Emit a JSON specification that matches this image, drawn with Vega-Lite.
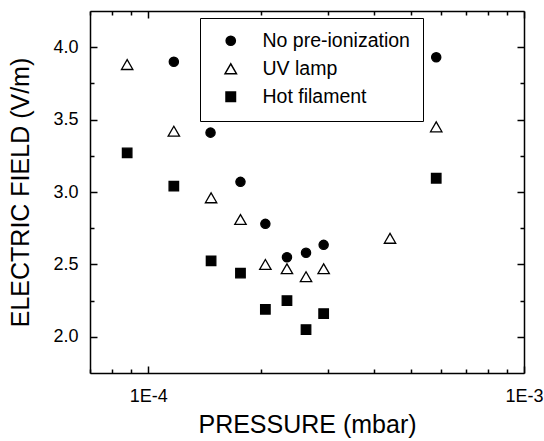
{
  "$schema": "https://vega.github.io/schema/vega-lite/v6.json",
  "width": 434,
  "height": 362,
  "autosize": {"type": "none"},
  "padding": {"left": 90, "top": 11, "right": 20, "bottom": 68},
  "background": "white",
  "config": {
    "view": {"stroke": null},
    "font": "Liberation Sans",
    "axis": {
      "grid": false,
      "domainColor": "black",
      "domainWidth": 1.5,
      "tickColor": "black",
      "tickWidth": 1.5,
      "labelColor": "black",
      "titleColor": "black",
      "labelFont": "Liberation Sans",
      "titleFont": "Liberation Sans",
      "labelFontSize": 18,
      "titleFontSize": 25,
      "titleFontWeight": "normal",
      "labelFlush": false,
      "labelOverlap": false,
      "labelBound": false
    },
    "legend": {
      "orient": "none", "legendX": 110, "legendY": 7,
      "strokeColor": "black", "padding": 13, "symbolOffset": 8,
      "labelFont": "Liberation Sans", "labelFontSize": 19.5, "labelColor": "black",
      "labelOffset": 22, "rowPadding": 7
    }
  },
  "data": {
    "values": [
      {"pressure": 0.000117, "field": 3.90, "series": "No pre-ionization"},
      {"pressure": 0.0001465, "field": 3.41, "series": "No pre-ionization"},
      {"pressure": 0.000176, "field": 3.07, "series": "No pre-ionization"},
      {"pressure": 0.000205, "field": 2.78, "series": "No pre-ionization"},
      {"pressure": 0.000234, "field": 2.55, "series": "No pre-ionization"},
      {"pressure": 0.000263, "field": 2.58, "series": "No pre-ionization"},
      {"pressure": 0.000293, "field": 2.635, "series": "No pre-ionization"},
      {"pressure": 0.000584, "field": 3.93, "series": "No pre-ionization"},
      {"pressure": 0.0000879, "field": 3.88, "series": "UV lamp"},
      {"pressure": 0.000117, "field": 3.42, "series": "UV lamp"},
      {"pressure": 0.000147, "field": 2.96, "series": "UV lamp"},
      {"pressure": 0.000176, "field": 2.81, "series": "UV lamp"},
      {"pressure": 0.000205, "field": 2.50, "series": "UV lamp"},
      {"pressure": 0.000234, "field": 2.47, "series": "UV lamp"},
      {"pressure": 0.000263, "field": 2.415, "series": "UV lamp"},
      {"pressure": 0.000293, "field": 2.47, "series": "UV lamp"},
      {"pressure": 0.00044, "field": 2.68, "series": "UV lamp"},
      {"pressure": 0.000584, "field": 3.45, "series": "UV lamp"},
      {"pressure": 0.0000879, "field": 3.27, "series": "Hot filament"},
      {"pressure": 0.000117, "field": 3.04, "series": "Hot filament"},
      {"pressure": 0.000147, "field": 2.525, "series": "Hot filament"},
      {"pressure": 0.000176, "field": 2.44, "series": "Hot filament"},
      {"pressure": 0.000205, "field": 2.19, "series": "Hot filament"},
      {"pressure": 0.000234, "field": 2.25, "series": "Hot filament"},
      {"pressure": 0.000263, "field": 2.05, "series": "Hot filament"},
      {"pressure": 0.000293, "field": 2.16, "series": "Hot filament"},
      {"pressure": 0.000584, "field": 3.095, "series": "Hot filament"}
    ]
  },
  "resolve": {"axis": {"x": "independent", "y": "independent"}},
  "layer": [
    {
      "mark": {"type": "point", "opacity": 1, "strokeWidth": 1.3, "stroke": "black"},
      "encoding": {
        "x": {
          "field": "pressure", "type": "quantitative",
          "scale": {"type": "log", "domain": [0.00007, 0.001], "nice": false},
          "axis": {
            "orient": "bottom", "values": [0.0001, 0.001],
            "labelExpr": "datum.value < 0.0005 ? '1E-4' : '1E-3'",
            "tickSize": -7, "labelPadding": 21, "titlePadding": 7,
            "title": "PRESSURE (mbar)"
          }
        },
        "y": {
          "field": "field", "type": "quantitative",
          "scale": {"domain": [1.75, 4.25], "nice": false, "zero": false},
          "axis": {
            "orient": "left", "values": [2.0, 2.5, 3.0, 3.5, 4.0], "format": ".1f",
            "tickSize": -7, "labelPadding": 19, "titlePadding": 19,
            "title": "ELECTRIC FIELD (V/m)"
          }
        },
        "shape": {
          "field": "series", "type": "nominal",
          "scale": {"domain": ["No pre-ionization", "UV lamp", "Hot filament"], "range": ["circle", "triangle-up", "square"]},
          "legend": {"title": " ", "titleOrient": "bottom", "titleFontSize": 2, "titleLineHeight": 2, "titlePadding": 0, "encode": {"symbols": {"update": {"stroke": {"value": "black"}, "strokeWidth": {"value": 1.3}}}}}
        },
        "fill": {
          "field": "series", "type": "nominal",
          "scale": {"domain": ["No pre-ionization", "UV lamp", "Hot filament"], "range": ["black", "white", "black"]},
          "legend": {"title": " ", "titleOrient": "bottom", "titleFontSize": 2, "titleLineHeight": 2, "titlePadding": 0, "encode": {"symbols": {"update": {"stroke": {"value": "black"}, "strokeWidth": {"value": 1.3}}}}}
        },
        "size": {
          "field": "series", "type": "nominal",
          "scale": {"type": "ordinal", "domain": ["No pre-ionization", "UV lamp", "Hot filament"], "range": [85, 130, 90]},
          "legend": {"title": " ", "titleOrient": "bottom", "titleFontSize": 2, "titleLineHeight": 2, "titlePadding": 0, "encode": {"symbols": {"update": {"stroke": {"value": "black"}, "strokeWidth": {"value": 1.3}}}}}
        }
      }
    },
    {
      "mark": {"type": "point", "opacity": 0},
      "encoding": {
        "x": {
          "field": "pressure", "type": "quantitative",
          "scale": {"type": "log", "domain": [0.00007, 0.001], "nice": false},
          "axis": {
            "orient": "bottom", "values": [0.00007, 0.00008, 0.00009, 0.0002, 0.0003, 0.0004, 0.0005, 0.0006, 0.0007, 0.0008, 0.0009],
            "labels": false, "domain": false, "tickSize": -4, "title": null
          }
        },
        "y": {
          "field": "field", "type": "quantitative",
          "scale": {"domain": [1.75, 4.25], "nice": false, "zero": false},
          "axis": {
            "orient": "left", "values": [2.25, 2.75, 3.25, 3.75],
            "labels": false, "domain": false, "tickSize": -4, "title": null
          }
        }
      }
    },
    {
      "mark": {"type": "point", "opacity": 0},
      "encoding": {
        "x": {
          "field": "pressure", "type": "quantitative",
          "scale": {"type": "log", "domain": [0.00007, 0.001], "nice": false},
          "axis": {
            "orient": "top", "values": [0.0001, 0.001],
            "labels": false, "tickSize": -7, "title": null
          }
        },
        "y": {
          "field": "field", "type": "quantitative",
          "scale": {"domain": [1.75, 4.25], "nice": false, "zero": false},
          "axis": {
            "orient": "right", "values": [2.0, 2.5, 3.0, 3.5, 4.0],
            "labels": false, "tickSize": -7, "title": null
          }
        }
      }
    },
    {
      "mark": {"type": "point", "opacity": 0},
      "encoding": {
        "x": {
          "field": "pressure", "type": "quantitative",
          "scale": {"type": "log", "domain": [0.00007, 0.001], "nice": false},
          "axis": {
            "orient": "top", "values": [0.00007, 0.00008, 0.00009, 0.0002, 0.0003, 0.0004, 0.0005, 0.0006, 0.0007, 0.0008, 0.0009],
            "labels": false, "domain": false, "tickSize": -4, "title": null
          }
        },
        "y": {
          "field": "field", "type": "quantitative",
          "scale": {"domain": [1.75, 4.25], "nice": false, "zero": false},
          "axis": {
            "orient": "right", "values": [2.25, 2.75, 3.25, 3.75],
            "labels": false, "domain": false, "tickSize": -4, "title": null
          }
        }
      }
    }
  ]
}
